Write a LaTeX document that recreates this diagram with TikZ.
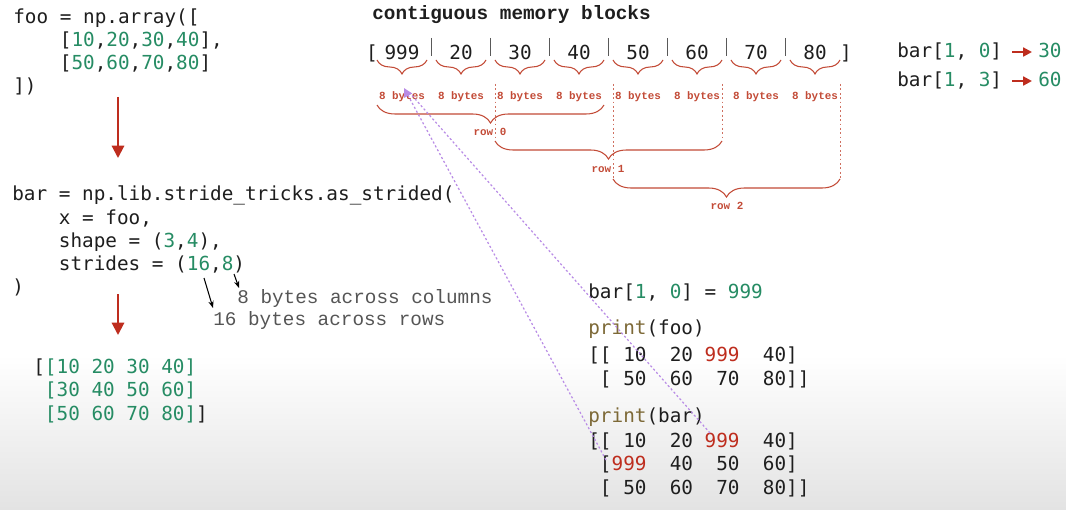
\documentclass[tikz,border=0pt]{standalone}
\usepackage{fontspec}
\usepackage{tikz}
\usetikzlibrary{arrows.meta,calc,decorations.pathreplacing}
\newfontfamily\codefont{DejaVu Sans Mono}
\newfontfamily\courfont{Liberation Mono}
\definecolor{numGreen}{RGB}{38,140,100}
\definecolor{hotRed}{RGB}{190,45,30}
\definecolor{braceRed}{RGB}{195,75,55}
\definecolor{printOlive}{RGB}{125,105,55}
\definecolor{ptrPurple}{RGB}{185,140,230}
\definecolor{inkDark}{RGB}{30,30,30}
\definecolor{noteGray}{RGB}{85,85,85}
\newcommand{\gn}[1]{\textcolor{numGreen}{#1}}
\newcommand{\hot}[1]{\textcolor{hotRed}{#1}}
\newcommand{\fn}[1]{\textcolor{printOlive}{#1}}
\tikzset{
  code/.style={font=\codefont\fontsize{11}{13.26}\selectfont, text=inkDark,
    inner sep=0pt, anchor=base west, align=left},
  cell/.style={font=\codefont\fontsize{11}{13}\selectfont, text=inkDark,
    inner sep=0pt, anchor=base},
  bytelbl/.style={font=\courfont\bfseries\fontsize{6.2}{7}\selectfont,
    text=braceRed, inner sep=0pt, anchor=base},
  note/.style={font=\courfont\fontsize{11}{13}\selectfont, text=noteGray,
    inner sep=0pt, anchor=base west},
  cellbrace/.style={draw=braceRed, line width=0.6pt, decorate,
    decoration={brace, mirror, amplitude=0.28cm}},
  rowbrace/.style={draw=braceRed, line width=0.6pt, decorate,
    decoration={brace, mirror, amplitude=0.36cm}},
  guide/.style={braceRed!80, line width=0.5pt, dash pattern=on 1pt off 1.5pt},
  downarrow/.style={hotRed, line width=1.2pt, -{Triangle[length=7pt,width=7pt]}},
  idxarrow/.style={hotRed, line width=1.2pt, -{Triangle[length=5pt,width=5pt]}},
  thinarrow/.style={black, line width=0.6pt, -{Stealth[length=4pt,width=3pt]}},
  ptr/.style={ptrPurple, line width=0.7pt, dash pattern=on 1.2pt off 1.3pt},
}
\begin{document}
\begin{tikzpicture}[x=0.02cm, y=-0.02cm]
  \useasboundingbox (0,0) rectangle (1066,510);
  % Background
  \fill[white] (0,0) rectangle (1066,510);
  \shade[top color=white, bottom color=black!11] (0,355) rectangle (1066,510);

  % Left column: code (multi-line nodes sit on their last baseline)
  \node[code] (foo) at (13,93) {foo = np.array([\\
    ~~~~[\gn{10},\gn{20},\gn{30},\gn{40}],\\
    ~~~~[\gn{50},\gn{60},\gn{70},\gn{80}]\\
    ])};
  \coordinate (d1a) at (118,97);
  \coordinate (d1b) at (118,158);
  \draw[downarrow] (d1a) -- (d1b);
  \node[code] (bar) at (12,294) {bar = np.lib.stride\_tricks.as\_strided(\\
    ~~~~x = foo,\\
    ~~~~shape = (\gn{3},\gn{4}),\\
    ~~~~strides = (\gn{16},\gn{8})\\
    )};
  \coordinate (d2a) at (118,294);
  \coordinate (d2b) at (118,335);
  \draw[downarrow] (d2a) -- (d2b);
  \node[code] (out) at (33,420) {[\gn{[10 20 30 40]}\\
    ~\gn{[30 40 50 60]}\\
    ~\gn{[50 60 70 80]}]};

  % Stride notes
  \node[note] (colnote) at (237,303) {8 bytes across columns};
  \node[note] (rownote) at (213,325) {16 bytes across rows};
  \coordinate (s16) at (204,278);
  \coordinate (t16) at (213,308);
  \coordinate (s8) at (234,274);
  \coordinate (t8) at (239,288);
  \draw[thinarrow] (s16) -- (t16);
  \draw[thinarrow] (s8) -- (t8);

  % Memory blocks
  \node[font=\courfont\bfseries\fontsize{11}{13}\selectfont, text=inkDark,
    inner sep=0pt, anchor=base west] (title) at (372,20) {contiguous memory blocks};
  \node[cell] (lbr) at (372,60) {[};
  \node[cell] (rbr) at (846,60) {]};
  \foreach \v [count=\i] in {999,20,30,40,50,60,70,80} {
    \node[cell] (m\i) at ({402+59*(\i-1)},60) {\v};
    \draw[cellbrace] ($(m\i)+(-25,7)$) -- ($(m\i)+(25,7)$);
    \node[bytelbl] (b\i) at ({402+59*(\i-1)},100) {8 bytes};
  }
  \foreach \i in {1,...,7}
    \draw[black!65, line width=0.9pt] ($(m\i)+(29.5,-15)$) -- ($(m\i)+(29.5,3)$);

  % Rows over the blocks
  \coordinate (r0a) at (377,105);
  \coordinate (r0b) at (604,105);
  \coordinate (r1a) at (495,141);
  \coordinate (r1b) at (722,141);
  \coordinate (r2a) at (613,179);
  \coordinate (r2b) at (840,179);
  \foreach \c in {r1a,r1b,r2a,r2b}
    \draw[guide] (\c |- 0,84) -- (\c);
  \draw[rowbrace] (r0a) -- (r0b);
  \draw[rowbrace] (r1a) -- (r1b);
  \draw[rowbrace] (r2a) -- (r2b);
  \node[bytelbl] (row0) at (490,136) {row 0};
  \node[bytelbl] (row1) at (608,173) {row 1};
  \node[bytelbl] (row2) at (727,210) {row 2};

  % Index lookups
  \node[code] (q10) at (897,58) {bar[\gn{1}, \gn{0}]};
  \node[code] (q10v) at (1038,58) {\gn{30}};
  \node[code] (q13) at (897,87) {bar[\gn{1}, \gn{3}]};
  \node[code] (q13v) at (1038,87) {\gn{60}};
  \draw[idxarrow, shorten <=0.2cm, shorten >=0.12cm] (q10.east) -- (q10.east -| q10v.west);
  \draw[idxarrow, shorten <=0.2cm, shorten >=0.12cm] (q13.east) -- (q13.east -| q13v.west);

  % Assignment and prints
  \node[code] (setv) at (588,298) {bar[\gn{1}, \gn{0}] = \gn{999}};
  \node[code] (pfoo) at (588,335) {\fn{print}(foo)};
  \node[code] (outfoo) at (588,385) {[[~10~~20~\hot{999}~~40]\\
    ~[~50~~60~~70~~80]]};
  \node[code] (pbar) at (588,422) {\fn{print}(bar)};
  \node[code] (outbar) at (588,494) {[[~10~~20~\hot{999}~~40]\\
    ~[\hot{999}~~40~~50~~60]\\
    ~[~50~~60~~70~~80]]};

  % Pointers back to the first block
  \coordinate (ptr) at (404,88);
  \coordinate (ptrb) at (409,92);
  \coordinate (hitA) at (710,433);
  \coordinate (hitB) at (606,460);
  \draw[ptr] (hitA) -- (ptrb);
  \draw[ptr, -{Triangle[length=5pt,width=5pt]}] (hitB) -- (ptr);
\end{tikzpicture}
\end{document}
